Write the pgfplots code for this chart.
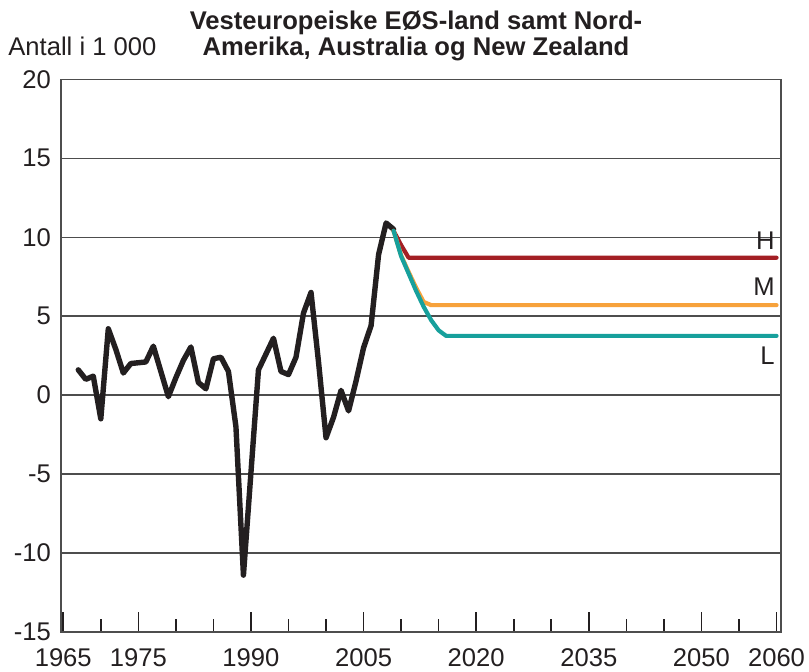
\documentclass[border=0pt]{standalone}
\usepackage{fontspec}
\setmainfont{Liberation Sans}
\usepackage{pgfplots}
\pgfplotsset{compat=1.18}
\definecolor{hcol}{HTML}{A31F24}
\definecolor{mcol}{HTML}{F7A23B}
\definecolor{lcol}{HTML}{17A09C}
\definecolor{blk}{HTML}{231F20}
\definecolor{gridc}{HTML}{4D4D4D}
\newcommand{\lbl}{\fontsize{12.8}{14}\selectfont}
\begin{document}
\begin{tikzpicture}
\begin{axis}[
 at={(0pt,0pt)}, anchor=south west,
 scale only axis, width=360pt, height=276.35pt,
 xmin=1964.7, xmax=2060.6, ymin=-15, ymax=20,
 xtick={1965,1975,1990,2005,2020,2035,2050,2060},
 minor xtick={1970,1980,1985,1995,2000,2010,2015,2025,2030,2040,2045,2055},
 ytick={-15,-10,...,20},
 xtick pos=left, ytick pos=left,
 tick align=inside,
 major tick length=10pt, minor tick length=6.5pt,
 xtick style={draw=blk, line width=0.8pt},
 ytick style={draw=none},
 ymajorgrids, grid style={gridc, line width=0.7pt},
 axis line style={gridc, line width=0.7pt},
 tick label style={font=\lbl, text=blk},
 xticklabel style={yshift=-5pt},
 yticklabel style={xshift=-1.5pt},
 /pgf/number format/assume math mode=true,
 /pgf/number format/1000 sep={},
 clip=false,
]
\addplot[blk, line width=2.7pt, line join=round, line cap=round] coordinates {
(1967,1.6) (1968,1.0) (1969,1.2) (1970,-1.5) (1971,4.2) (1972,2.9) (1973,1.4)
(1974,2.0) (1975,2.05) (1976,2.1) (1977,3.1) (1978,1.5) (1979,-0.1) (1980,1.1)
(1981,2.2) (1982,3.05) (1983,0.8) (1984,0.4) (1985,2.3) (1986,2.4) (1987,1.5)
(1988,-2.0) (1989,-11.4) (1990,-4.9) (1991,1.6) (1992,2.6) (1993,3.6) (1994,1.5)
(1995,1.3) (1996,2.4) (1997,5.2) (1998,6.5) (1999,2.1) (2000,-2.7) (2001,-1.4)
(2002,0.3) (2003,-1.0) (2004,0.9) (2005,3.0) (2006,4.4) (2007,8.9) (2008,10.9)
(2009,10.5)};
\addplot[hcol, line width=2.1pt, line join=round, line cap=round] coordinates {
(2009,10.4) (2010,9.5) (2011,8.7) (2060,8.7)};
\addplot[mcol, line width=2.1pt, line join=round, line cap=round] coordinates {
(2009,10.4) (2010,8.85) (2011,7.8) (2012,6.8) (2013,5.9) (2014,5.7) (2060,5.7)};
\addplot[lcol, line width=2.1pt, line join=round, line cap=round] coordinates {
(2009,10.4) (2010,8.8) (2011,7.7) (2012,6.6) (2013,5.6) (2014,4.75) (2015,4.1) (2016,3.75) (2060,3.75)};
\node[anchor=east, inner sep=0pt, font=\lbl, text=blk] at (axis cs:2059.8,9.75) {H};
\node[anchor=east, inner sep=0pt, font=\lbl, text=blk] at (axis cs:2059.8,6.84) {M};
\node[anchor=east, inner sep=0pt, font=\lbl, text=blk] at (axis cs:2059.8,2.47) {L};
\end{axis}
\node[anchor=base, inner sep=0pt, font=\bfseries\lbl, text=blk] at (177.5pt,301pt) {Vesteuropeiske EØS-land samt Nord-};
\node[anchor=base, inner sep=0pt, font=\bfseries\lbl, text=blk] at (177.5pt,288pt) {Amerika, Australia og New Zealand};
\node[anchor=base west, inner sep=0pt, font=\lbl, text=blk] at (-26.5pt,288pt) {Antall i 1 000};
\pgfresetboundingbox
\path[use as bounding box] (-30.5pt,-20pt) rectangle (374pt,316pt);
\end{tikzpicture}
\end{document}
